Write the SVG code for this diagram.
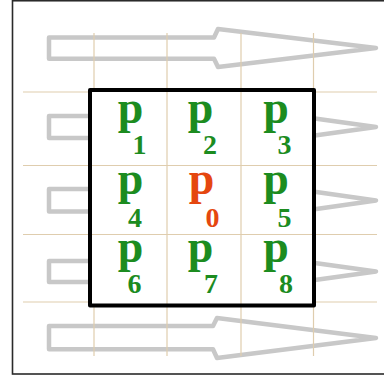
<svg xmlns="http://www.w3.org/2000/svg" width="384" height="382" viewBox="0 0 384 382">
  <style>
    .arrow { fill: none; stroke: #c8c8c8; stroke-width: 4.5; stroke-linejoin: round; }
    .grid { stroke: #dfcdae; stroke-width: 1.2; fill: none; }
    .p { font-family: "Liberation Serif", "Times New Roman", serif; font-weight: bold; font-size: 46px; text-anchor: middle; }
    .s { font-family: "Liberation Serif", "Times New Roman", serif; font-weight: bold; font-size: 28px; text-anchor: middle; }
    .g { fill: #1c8c1f; }
    .r { fill: #e5470f; }
  </style>
  <rect x="0" y="0" width="384" height="382" fill="#ffffff"/>
  <rect id="frame" x="12.5" y="0.75" width="380" height="373.25" fill="#ffffff" stroke="#2a2a2a" stroke-width="1.6"/>

  <g id="arrows">
    <path class="arrow" d="M49,37.5 L214,37.5 L218,29 L376,48 L218,67 L214,58.7 L49,58.7 Z"/>
    <path class="arrow" d="M49,116 L230,116 L232,107 L376,127 L232,147 L230,138 L49,138 Z"/>
    <path class="arrow" d="M49,189 L230,189 L232,180 L376,200.5 L232,221 L230,211.5 L49,211.5 Z"/>
    <path class="arrow" d="M49,261 L230,261 L232,251.5 L376,271.5 L232,291.5 L230,282 L49,282 Z"/>
    <path class="arrow" d="M49,326 L213,326 L217,318 L376,338 L217,358 L213,349.3 L49,349.3 Z"/>
  </g>

  <g id="grid">
    <line class="grid" x1="94" y1="33" x2="94" y2="356"/>
    <line class="grid" x1="167" y1="33" x2="167" y2="356"/>
    <line class="grid" x1="241" y1="33" x2="241" y2="356"/>
    <line class="grid" x1="313.5" y1="33" x2="313.5" y2="356"/>
    <line class="grid" x1="23" y1="92" x2="377" y2="92"/>
    <line class="grid" x1="23" y1="165.5" x2="377" y2="165.5"/>
    <line class="grid" x1="23" y1="234.5" x2="377" y2="234.5"/>
    <line class="grid" x1="23" y1="302" x2="377" y2="302"/>
  </g>

  <g id="window">
    <rect x="90" y="90" width="224" height="215.5" fill="#ffffff"/>
    <line class="grid" x1="167" y1="90" x2="167" y2="305.5"/>
    <line class="grid" x1="241" y1="90" x2="241" y2="305.5"/>
    <line class="grid" x1="90" y1="165.5" x2="314" y2="165.5"/>
    <line class="grid" x1="90" y1="234.5" x2="314" y2="234.5"/>
    <rect x="90" y="90" width="224" height="215.5" fill="none" stroke="#000000" stroke-width="4" stroke-linejoin="round"/>
  </g>

  <g id="p1" class="g"><text class="p" x="130.5" y="123">p</text><text class="s" x="139.5" y="154">1</text></g>
  <g id="p2" class="g"><text class="p" x="200.5" y="123">p</text><text class="s" x="210" y="154">2</text></g>
  <g id="p3" class="g"><text class="p" x="276" y="123">p</text><text class="s" x="284.5" y="154">3</text></g>
  <g id="p4" class="g"><text class="p" x="130.5" y="194">p</text><text class="s" x="135" y="227">4</text></g>
  <g id="p0" class="r"><text class="p" x="201.5" y="194">p</text><text class="s" x="212.5" y="227">0</text></g>
  <g id="p5" class="g"><text class="p" x="276" y="194">p</text><text class="s" x="284.5" y="227">5</text></g>
  <g id="p6" class="g"><text class="p" x="130.5" y="262">p</text><text class="s" x="134.5" y="293">6</text></g>
  <g id="p7" class="g"><text class="p" x="200.5" y="262">p</text><text class="s" x="211" y="293">7</text></g>
  <g id="p8" class="g"><text class="p" x="276" y="262">p</text><text class="s" x="286" y="293">8</text></g>
</svg>
